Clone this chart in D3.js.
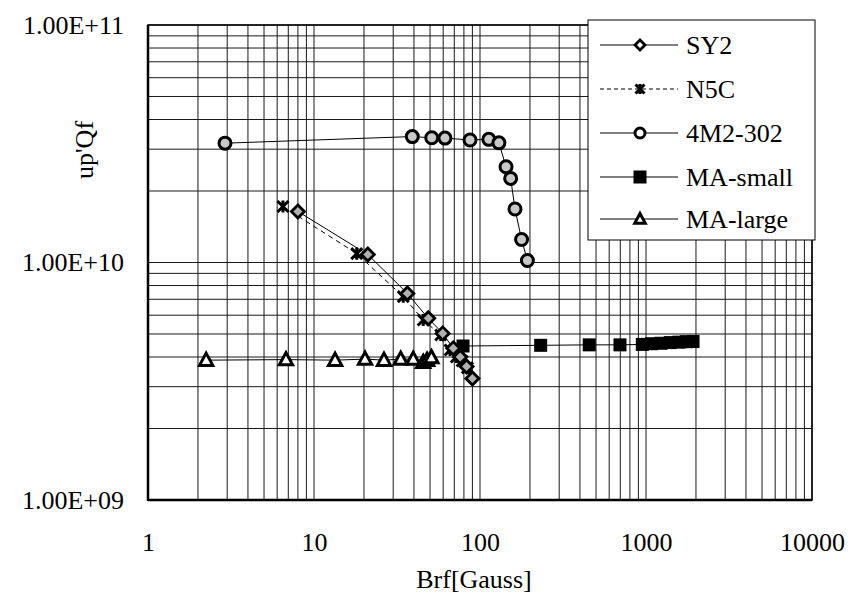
<!DOCTYPE html>
<html><head><meta charset="utf-8">
<script src="https://cdn.jsdelivr.net/npm/d3@7"></script>
<style>
html,body{margin:0;padding:0;background:#fff;}
svg{display:block;}
</style></head><body>
<svg id="c" width="850" height="602"></svg>
<script>
// ---- data ----
const seriesNames = ["SY2", "N5C", "4M2-302", "MA-small", "MA-large"];
const sy2X = [8.0, 21.1, 36.5, 48.8, 59.6, 69, 76, 83, 90];
const sy2Y = [1.64e10, 1.08e10, 7.41e9, 5.82e9, 5.03e9, 4.35e9, 4.0e9, 3.65e9, 3.25e9];
const n5cX = [6.5, 18.1, 34.5, 45.5, 58, 66, 72, 78, 84];
const n5cY = [1.72e10, 1.09e10, 7.18e9, 5.73e9, 4.95e9, 4.28e9, 4.0e9, 3.85e9, 3.6e9];
const m4X = [2.91, 39.1, 51.2, 61.5, 87.1, 113, 130, 143.5, 153, 162.5, 178, 193];
const m4Y = [3.18e10, 3.39e10, 3.35e10, 3.34e10, 3.28e10, 3.30e10, 3.19e10, 2.53e10, 2.26e10, 1.68e10, 1.25e10, 1.02e10];
const maSmallX = [79, 232, 455, 697, 950, 1080, 1230, 1400, 1580, 1750, 1920];
const maSmallY = [4.45e9, 4.48e9, 4.5e9, 4.5e9, 4.52e9, 4.55e9, 4.57e9, 4.6e9, 4.62e9, 4.64e9, 4.65e9];
const maLargeX = [2.24, 6.78, 13.4, 20.3, 26.4, 33.3, 39.6, 45.5, 48, 51];
const maLargeY = [3.88e9, 3.9e9, 3.88e9, 3.92e9, 3.88e9, 3.92e9, 3.92e9, 3.8e9, 3.88e9, 3.98e9];
const xTicks = [1, 10, 100, 1000, 10000];
const xTickLabels = ["1", "10", "100", "1000", "10000"];
const yTicks = [1e9, 1e10, 1e11];
const yTickLabels = ["1.00E+09", "1.00E+10", "1.00E+11"];
const xTitle = "Brf[Gauss]";
const yTitle = "up'Qf";

// ---- layout ----
const FONT = "'Liberation Serif', 'DejaVu Serif', 'Noto Serif', 'Times New Roman', serif";
const L = 148, R = 812, T = 25, B = 500;
const svg = d3.select("#c");
const x = d3.scaleLog().domain([1, 10000]).range([L, R]);
const y = d3.scaleLog().domain([1e9, 1e11]).range([B, T]);

// grid
const xGrid = [];
for (let d = 1; d < 10000; d *= 10) for (let k = 1; k < 10; k++) xGrid.push(d * k);
xGrid.push(10000);
const yGrid = [];
for (let d = 1e9; d < 1e11; d *= 10) for (let k = 1; k < 10; k++) yGrid.push(d * k);
yGrid.push(1e11);

const g = svg.append("g");
g.selectAll("line.vx").data(xGrid).join("line")
  .attr("x1", d => x(d)).attr("x2", d => x(d)).attr("y1", T).attr("y2", B)
  .attr("stroke", "#1a1a1a").attr("stroke-width", 1);
g.selectAll("line.hy").data(yGrid).join("line")
  .attr("x1", L).attr("x2", R).attr("y1", d => y(d)).attr("y2", d => y(d))
  .attr("stroke", "#1a1a1a").attr("stroke-width", 1);

// frame
svg.append("rect").attr("x", L).attr("y", T).attr("width", R - L).attr("height", B - T)
  .attr("fill", "none").attr("stroke", "#000").attr("stroke-width", 1.5);
svg.append("line").attr("x1", L).attr("x2", L).attr("y1", T).attr("y2", B + 1).attr("stroke", "#000").attr("stroke-width", 2.5);
svg.append("line").attr("x1", L).attr("x2", R).attr("y1", B).attr("y2", B).attr("stroke", "#000").attr("stroke-width", 2.5);

// axes
const xAxis = d3.axisBottom(x).tickValues(xTicks).tickFormat((d, i) => xTickLabels[i]).tickSize(0).tickPadding(33);
const xa = svg.append("g").attr("transform", `translate(0,${B})`).call(xAxis);
xa.select(".domain").remove();
xa.attr("font-family", FONT).attr("font-size", 26);
xa.selectAll("text").attr("font-family", FONT).attr("font-size", 26).attr("fill", "#000");

const yAxis = d3.axisLeft(y).tickValues(yTicks).tickFormat((d, i) => yTickLabels[i]).tickSize(0).tickPadding(24);
const ya = svg.append("g").attr("transform", `translate(${L},0)`).call(yAxis);
ya.select(".domain").remove();
ya.attr("font-family", FONT).attr("font-size", 26);
ya.selectAll("text").attr("font-family", FONT).attr("font-size", 26).attr("fill", "#000");

// titles
svg.append("text").attr("x", 474).attr("y", 588).attr("text-anchor", "middle")
  .attr("font-family", FONT).attr("font-size", 26).text(xTitle);
svg.append("text").attr("transform", "translate(93,150) rotate(-90)").attr("text-anchor", "middle")
  .attr("font-family", FONT).attr("font-size", 26).text(yTitle);

// markers
function drawMarker(sel, type, s, fill) {
  if (type === "diamond") {
    sel.append("path").attr("d", `M0,${-s}L${s},0L0,${s}L${-s},0Z`)
      .attr("fill", fill).attr("stroke", "#000").attr("stroke-width", 2.8);
  } else if (type === "star") {
    sel.append("path").attr("d", `M${-s},${-s}L${s},${s}M${-s},${s}L${s},${-s}M0,${-s * 1.1}L0,${s * 1.1}`)
      .attr("stroke", "#000").attr("stroke-width", 3).attr("fill", "none");
  } else if (type === "circle") {
    sel.append("circle").attr("r", s).attr("fill", fill).attr("stroke", "#000").attr("stroke-width", 3);
  } else if (type === "square") {
    sel.append("rect").attr("x", -s).attr("y", -s).attr("width", 2 * s).attr("height", 2 * s).attr("fill", "#000");
  } else if (type === "triangle") {
    sel.append("path").attr("d", `M0,${-s}L${s * 0.95},${s * 0.75}L${-s * 0.95},${s * 0.75}Z`)
      .attr("fill", "#fff").attr("stroke", "#000").attr("stroke-width", 3).attr("stroke-linejoin", "miter");
  }
}

const series = [
  { xs: maLargeX, ys: maLargeY, type: "triangle", size: 7, dash: null, fill: "#fff" },
  { xs: maSmallX, ys: maSmallY, type: "square", size: 6.5, dash: null, fill: "#000" },
  { xs: m4X, ys: m4Y, type: "circle", size: 6, dash: null, fill: "#c8c8c8" },
  { xs: n5cX, ys: n5cY, type: "star", size: 5.5, dash: "5,4", fill: "none" },
  { xs: sy2X, ys: sy2Y, type: "diamond", size: 6.5, dash: null, fill: "#b0b0b0" }
];
const line = d3.line().x(d => x(d[0])).y(d => y(d[1]));
series.forEach(s => {
  const pts = s.xs.map((v, i) => [v, s.ys[i]]);
  svg.append("path").attr("d", line(pts)).attr("fill", "none").attr("stroke", "#000")
    .attr("stroke-width", 1).attr("stroke-dasharray", s.dash);
});
series.forEach(s => {
  s.xs.forEach((v, i) => {
    const m = svg.append("g").attr("transform", `translate(${x(v)},${y(s.ys[i])})`);
    drawMarker(m, s.type, s.size, s.fill);
  });
});

// legend
const leg = svg.append("g");
leg.append("rect").attr("x", 588).attr("y", 20).attr("width", 227).attr("height", 220)
  .attr("fill", "#fff").attr("stroke", "#000").attr("stroke-width", 1);
const legTypes = ["diamond", "star", "circle", "square", "triangle"];
const legDash = [null, "4,3", null, null, null];
const legY = [45, 89, 133, 177, 219];
const legSize = [5, 4.5, 5, 6.5, 5.5];
seriesNames.forEach((n, i) => {
  const yy = legY[i];
  leg.append("line").attr("x1", 600).attr("x2", 678).attr("y1", yy).attr("y2", yy)
    .attr("stroke", "#000").attr("stroke-width", 1).attr("stroke-dasharray", legDash[i]);
  const m = leg.append("g").attr("transform", `translate(640,${yy})`);
  drawMarker(m, legTypes[i], legSize[i], "#fff");
  leg.append("text").attr("x", 686).attr("y", yy + 9).attr("font-family", FONT).attr("font-size", 26).text(n);
});
</script>
</body></html>
